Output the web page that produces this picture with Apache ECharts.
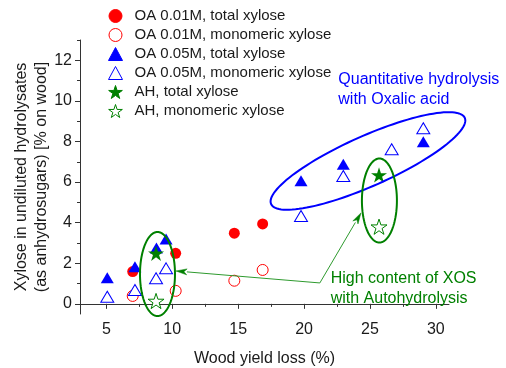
<!DOCTYPE html>
<html><head><meta charset="utf-8">
<script src="https://cdn.jsdelivr.net/npm/echarts@6/dist/echarts.min.js"></script>
<style>html,body{margin:0;padding:0;background:#fff}#c{width:506px;height:368px}</style>
</head><body><div id="c"></div>
<script>
// ---- data ----
const seriesNames = ['OA 0.01M, total xylose', 'OA 0.01M, monomeric xylose', 'OA 0.05M, total xylose', 'OA 0.05M, monomeric xylose', 'AH, total xylose', 'AH, monomeric xylose'];
const oa001TotalX = [7.0, 10.26, 14.71, 16.86];
const oa001TotalY = [1.59, 2.49, 3.48, 3.94];
const oa001MonoX = [7.0, 10.26, 14.71, 16.86];
const oa001MonoY = [0.39, 0.64, 1.14, 1.67];
const oa005TotalX = [5.07, 7.17, 8.8, 9.53, 19.77, 22.98, 29.05];
const oa005TotalY = [1.29, 1.83, 2.75, 3.2, 6.07, 6.88, 7.99];
const oa005MonoX = [5.07, 7.17, 8.77, 9.53, 19.77, 22.98, 26.65, 29.05];
const oa005MonoY = [0.35, 0.68, 1.26, 1.75, 4.33, 6.3, 7.62, 8.65];
const ahTotalX = [8.77, 25.69];
const ahTotalY = [2.49, 6.35];
const ahMonoX = [8.77, 25.69];
const ahMonoY = [0.14, 3.8];
const xTicks = [5, 10, 15, 20, 25, 30];
const xMinorTicks = [7.5, 12.5, 17.5, 22.5, 27.5];
const yTicks = [0, 2, 4, 6, 8, 10, 12];
const yMinorTicks = [1, 3, 5, 7, 9, 11, 13];
const xAxisTitle = 'Wood yield loss (%)';
const yAxisTitle = 'Xylose in undiluted hydrolysates\n(as anhydrosugars) [% on wood]';
const blueNoteLines = ['Quantitative hydrolysis', 'with Oxalic acid'];
const greenNoteLines = ['High content of XOS', 'with Autohydrolysis'];

const FONT = '"Liberation Sans", Arial, sans-serif';
const STAR = 'path://M50 0 L61.23 34.55 L97.55 34.55 L68.16 55.9 L79.39 90.45 L50 69.1 L20.61 90.45 L31.84 55.9 L2.45 34.55 L38.77 34.55 Z';
const zip = (xs, ys) => xs.map((x, i) => [x, ys[i]]);

function sc(name, xs, ys, symbol, size, fill, stroke) {
  return {
    name, type: 'scatter', data: zip(xs, ys), symbol, symbolSize: size, symbolKeepAspect: true,
    itemStyle: { color: fill, borderColor: stroke, borderWidth: fill === '#fff' ? 1 : 0, opacity: 1 },
    emphasis: { disabled: true }, silent: true
  };
}

const chart = echarts.init(document.getElementById('c'), null, { renderer: 'canvas' });
const axisCol = '#333';
const txtCol = '#1a1a1a';
chart.setOption({
  animation: false,
  textStyle: { fontFamily: FONT },
  grid: { left: 80, right: 57, top: 40, bottom: 54, containLabel: false, outerBoundsMode: 'none' },
  legend: {
    orient: 'vertical', left: 103, top: 3.5, itemWidth: 14, itemHeight: 13, itemGap: 4,
    data: seriesNames,
    itemStyle: { borderWidth: 1 },
    textStyle: { fontFamily: FONT, fontSize: 15, color: txtCol, padding: [0, 0, 0, 7], lineHeight: 15 },
    selectedMode: false
  },
  xAxis: [{
    type: 'value', min: 3, max: 31,
    name: xAxisTitle, nameLocation: 'middle', nameGap: 37,
    nameTextStyle: { fontFamily: FONT, fontSize: 16, color: txtCol },
    axisLine: { show: true, lineStyle: { color: axisCol, width: 1 } },
    axisTick: { show: true, customValues: xTicks, length: 5, lineStyle: { color: axisCol } },
    axisLabel: { customValues: xTicks, fontFamily: FONT, fontSize: 16, color: txtCol, margin: 8 },
    splitLine: { show: false }
  }, {
    type: 'value', min: 3, max: 31, position: 'bottom',
    axisLine: { show: false },
    axisTick: { show: true, customValues: xMinorTicks, length: 3, lineStyle: { color: axisCol } },
    axisLabel: { show: false }, splitLine: { show: false }
  }],
  yAxis: [{
    type: 'value', min: -0.5, max: 13,
    name: yAxisTitle, nameLocation: 'middle', nameGap: 28, nameMoveOverlap: false,
    nameTextStyle: { fontFamily: FONT, fontSize: 16, color: txtCol, lineHeight: 20 },
    axisLine: { show: true, lineStyle: { color: axisCol, width: 1 } },
    axisTick: { show: true, customValues: yTicks, length: 5, lineStyle: { color: axisCol } },
    axisLabel: { customValues: yTicks, fontFamily: FONT, fontSize: 16, color: txtCol, margin: 8 },
    splitLine: { show: false }
  }, {
    type: 'value', min: -0.5, max: 13, position: 'left',
    axisLine: { show: false },
    axisTick: { show: true, customValues: yMinorTicks, length: 3, lineStyle: { color: axisCol } },
    axisLabel: { show: false }, splitLine: { show: false }
  }],
  series: [
    sc(seriesNames[0], oa001TotalX, oa001TotalY, 'circle', 11, '#ff0000', '#ff0000'),
    sc(seriesNames[1], oa001MonoX, oa001MonoY, 'circle', 11, '#fff', '#ff0000'),
    sc(seriesNames[2], oa005TotalX, oa005TotalY, 'triangle', [13, 11], '#0000ff', '#0000ff'),
    sc(seriesNames[3], oa005MonoX, oa005MonoY, 'triangle', [13, 11], '#fff', '#0000ff'),
    sc(seriesNames[4], ahTotalX, ahTotalY, STAR, 16, '#008000', '#008000'),
    sc(seriesNames[5], ahMonoX, ahMonoY, STAR, 16, '#fff', '#008000')
  ]
});

// ---- annotations (anchored in data coordinates) ----
const blueEllipse = { c: [24.85, 7.04], rx: 106, ry: 25, angle: 24 };
const greenEllipses = [{ c: [8.88, 1.47], rx: 17.5, ry: 42, angle: 0 }, { c: [25.72, 5.09], rx: 17.5, ry: 42, angle: 0 }];
const arrowOrigin = [21.2, 1.03];
const arrowTargets = [[10.28, 1.62], [24.32, 4.48]];
const blueNoteAnchor = [22.6, 11.06];
const greenNoteAnchor = [22.02, 1.26];

const px = p => chart.convertToPixel({ gridIndex: 0 }, p);
function ellipsePts(e) {
  const [cx, cy] = px(e.c);
  const a = e.angle * Math.PI / 180;
  const pts = [];
  for (let t = 0; t < 360; t += 3) {
    const r = t * Math.PI / 180;
    const u = e.rx * Math.cos(r), v = e.ry * Math.sin(r);
    pts.push([cx + u * Math.cos(a) + v * Math.sin(a), cy - u * Math.sin(a) + v * Math.cos(a)]);
  }
  return pts;
}
const g = [];
g.push({ type: 'polygon', z: 100, shape: { points: ellipsePts(blueEllipse) }, style: { fill: 'none', stroke: '#0000ff', lineWidth: 2 } });
greenEllipses.forEach(e => g.push({ type: 'polygon', z: 100, shape: { points: ellipsePts(e) }, style: { fill: 'none', stroke: '#008000', lineWidth: 2 } }));
const o = px(arrowOrigin);
arrowTargets.forEach(tg => {
  const t = px(tg);
  const dx = t[0] - o[0], dy = t[1] - o[1];
  const L = Math.hypot(dx, dy), ux = dx / L, uy = dy / L;
  const hl = 11, hw = 3;
  const bx = t[0] - ux * hl, by = t[1] - uy * hl;
  g.push({ type: 'line', z: 100, shape: { x1: o[0], y1: o[1], x2: bx, y2: by }, style: { stroke: '#2e9a2e', lineWidth: 1 } });
  g.push({ type: 'polygon', z: 100, shape: { points: [t, [bx - uy * hw, by + ux * hw], [bx + ux * 3, by + uy * 3], [bx + uy * hw, by - ux * hw]] }, style: { fill: '#008000', stroke: '#008000', lineWidth: 0.5 } });
});
function noteLines(anchor, lines, color) {
  const [x, y] = px(anchor);
  lines.forEach((s, i) => g.push({ type: 'text', z: 101, x: x, y: y + i * 20, style: { text: s, fill: color, font: '16px ' + FONT, textAlign: 'left', textVerticalAlign: 'middle' } }));
}
noteLines(blueNoteAnchor, blueNoteLines, '#0000ff');
noteLines(greenNoteAnchor, greenNoteLines, '#008000');
chart.setOption({ graphic: g });
</script>
</body></html>
